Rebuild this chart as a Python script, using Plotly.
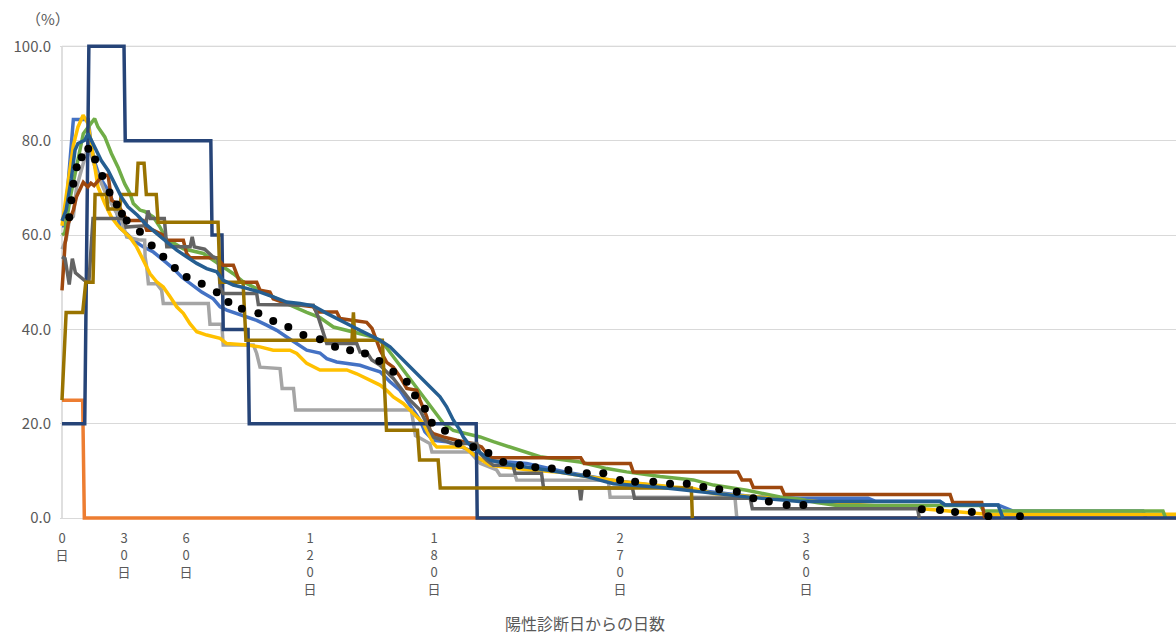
import plotly.graph_objects as go

# ---------------- data (day since positive diagnosis, %) ----------------
blue_days = [0, 1.3, 5.5, 12.7, 14.2, 15.8, 18.2, 22.3, 26.3, 28.1, 31.3, 34.5, 39.3, 44.2, 49, 53.9, 57.9, 62.8, 67.6, 73.2,
             76.5, 79.7, 84.5, 89.4, 94.2, 99, 103.9, 108.7, 113.6, 118.4, 124.8, 128.1, 132.9, 144.2, 149, 153.9, 158.7, 163.5, 166.8, 170,
             173.2, 175.6, 179.7, 186.1, 191, 197.4, 202.3, 224.8, 243.4, 265.2, 284.5, 307.1, 336.1, 357, 390, 393.4, 424.8, 427.3, 452.9, 460.2,
             523, 524.5]
blue_vals = [62, 62, 84.5, 84.5, 78.7, 75.5, 72.3, 69.5, 65.3, 61.5, 60.3, 58.9, 57.5, 56.4, 54.7, 52.9, 51.1, 49.4, 47.9, 46.5,
             44.8, 44.1, 43.4, 42.6, 41.9, 40.9, 39.8, 38.4, 37.0, 35.6, 35.0, 33.8, 33.1, 32.4, 31.7, 31.0, 28.9, 27.1, 25.0, 22.9,
             20.8, 18.3, 16.5, 16.2, 15.5, 14.4, 12.3, 11.6, 9.8, 8.1, 7.0, 5.9, 4.5, 4.2, 4.2, 3.6, 3.6, 2.8, 2.8, 1.5,
             1.5, 0]

orange_days = [0, 10, 10.8, 539]
orange_vals = [25, 25, 0, 0]

lgray_days = [0, 2, 3.5, 5.5, 7, 9.5, 12.7, 14, 17, 21, 26, 28.9, 31.3, 37, 40, 40.2, 41, 41.8, 45.8, 48.2,
              49, 70.8, 71.6, 77.3, 78, 92.6, 94.2, 95.8, 105.5, 106.5, 112, 113, 169, 171, 178, 179, 197.4, 202.3, 210.3, 211.9,
              219.2, 220, 264.3, 265.2, 325.6, 326.5]
lgray_vals = [57, 59, 63, 64, 70, 74, 79, 77, 73, 69, 65, 63.1, 59.6, 59, 58.9, 55.4, 53.2, 49.7, 49.7, 48.3,
              45.5, 45.5, 41.1, 41.1, 36.7, 36.7, 34.9, 32.0, 31.7, 27.5, 27.5, 22.9, 22.9, 17.5, 15.8, 14.0, 14.0, 11.6, 10.2, 9.1,
              9.1, 8.1, 8.0, 4.4, 4.4, 0]

yellow_days = [0, 3, 5.5, 7.7, 10.2, 12.6, 14.5, 15.8, 17.4, 20.7, 23.9, 27, 30.3, 32.9, 36.1, 39.3, 42.6, 45.8, 49, 52.3,
               55.5, 58.7, 61.9, 65.2, 70, 76.5, 79.7, 89.4, 95.8, 102.2, 110.3, 113.6, 118.4, 124.8, 137.8, 142.6, 149, 153.9, 157.1, 160.3,
               165.1, 170, 174.8, 178.1, 179.7, 181.3, 194.2, 200.7, 207.1, 226.4, 239.4, 253.9, 265.2, 271.6, 295.8, 305.5, 315.2, 344.2, 357, 380,
               416, 429.7, 441, 447.4, 539]
yellow_vals = [62, 72, 79, 82.9, 85.4, 83.6, 78, 74.4, 70.2, 66.7, 63.8, 62, 60.5, 59.5, 57.5, 54.7, 51.8, 50.1, 49.0, 46.9,
               44.8, 43.4, 41.2, 39.5, 38.8, 38.1, 37.0, 36.7, 36.3, 35.6, 35.6, 34.9, 32.8, 31.4, 31.4, 30.6, 29.2, 28.2, 27.1, 25.7,
               24.3, 22.2, 20.1, 17.2, 15.8, 15.1, 15.1, 13.0, 11.2, 10.2, 9.8, 8.8, 8.1, 7.7, 6.6, 6.3, 5.2, 4.2, 3.8, 3.0,
               2.0, 1.5, 1.2, 0.8, 0.8]

green_days = [0, 1.3, 4, 7.7, 10.3, 13.4, 15.8, 17.4, 20.7, 23.9, 27.1, 30.3, 32.9, 34.5, 37.7, 40, 44.2, 47.4, 50.7, 54.5,
              58.7, 68.4, 78, 82.9, 87.7, 92.6, 99, 108, 118.4, 124.8, 131.3, 144.2, 150.6, 155.5, 160.3, 165.1, 170, 174.8, 179.7, 184.5,
              189.3, 195.8, 202.3, 208.7, 216.8, 224.8, 231.3, 250.6, 263.6, 273.2, 289.4, 305.5, 315.2, 331.3, 347.4, 357, 365, 375, 444.2, 446,
              532.7, 534]
green_vals = [60, 60.4, 68, 76.5, 81.5, 83.3, 84.7, 82.9, 80.8, 77.3, 74.4, 70.9, 68.8, 66.7, 65.3, 65.0, 63.8, 61.7, 58.9, 58.2,
              57.1, 56.1, 53.2, 51.8, 50.1, 49.0, 47.6, 45.6, 43.6, 42.5, 40.5, 39.1, 38.4, 37.0, 34.2, 31.4, 28.5, 25.7, 22.9, 20.1,
              18.6, 17.9, 17.2, 16.2, 15.1, 14.0, 13.0, 11.9, 10.5, 9.8, 8.8, 8.1, 7.0, 5.9, 4.5, 4.0, 3.3, 2.7, 2.7, 1.5,
              1.5, 0]

navy_days = [0, 11, 13, 30, 30.6, 72, 72.6, 77.4, 78, 90, 90.6, 200.4, 200.9, 539]
navy_vals = [20, 20, 100, 100, 80, 80, 60, 60, 40, 40, 20, 20, 0, 0]

brown_days = [0, 1.5, 3, 5.5, 7, 9, 10.3, 12.5, 14, 15.5, 19, 21.6, 22.3, 24, 26.5, 29.7, 31.3, 39.3, 41, 44.2,
              49, 50.7, 58.7, 60.3, 61.9, 74.9, 78, 82.9, 84.5, 86, 94.2, 95.8, 100.6, 102.2, 103.9, 108.7, 121.6, 123.2, 132.9, 134.5,
              147.4, 150, 152.3, 154, 157.1, 160.3, 163.5, 166.8, 171.6, 173.2, 176.5, 178.1, 179.7, 184.5, 191, 199, 203, 205.5, 208, 251,
              252.7, 275, 276.4, 327, 329, 333, 334.5, 348, 349.5, 429.7, 431, 445, 446.5]
brown_vals = [48.3, 58.2, 62.4, 65.3, 68.1, 70.2, 71.2, 70.2, 71, 70.5, 72.3, 72.7, 72.7, 67.4, 66.7, 64.6, 63.1, 63.1, 61, 61,
              60, 58.9, 58.9, 56.1, 55.2, 55.2, 53.6, 53.6, 51.8, 50, 50, 48.3, 47.9, 46.5, 46.2, 45.5, 44.8, 43.7, 43.7, 42.3,
              41.5, 40.2, 37.5, 35.5, 33, 32, 30, 27.5, 27.1, 25.0, 21.5, 18.6, 17.9, 17.2, 16.5, 15.8, 15.1, 13.7, 12.8, 12.8,
              11.6, 11.6, 9.8, 9.8, 8.1, 8.1, 6.5, 6.5, 5.0, 5.0, 3.3, 3.3, 0]

dgray_days = [0, 1.5, 3.5, 5, 6.5, 9, 12, 13, 15, 30, 31, 40.5, 41.6, 42.7, 49.5, 50.7, 62, 63, 64, 69,
              73, 75.5, 76.5, 78, 94.2, 95, 121.6, 124, 126.4, 128.1, 142.6, 144.2, 147.4, 149.9, 153.9, 157.1, 160.3, 163.5, 168.4, 173.2,
              176.5, 179.7, 184.5, 189.3, 200.7, 202.3, 205.5, 208.7, 218.2, 219.2, 232, 233, 250.3, 251, 251.7, 276, 277, 333, 334, 414,
              414.8]
dgray_vals = [55.4, 55, 49.5, 55, 52, 51, 50, 50, 63.5, 63.5, 61.7, 62, 65.2, 63.5, 63.5, 57.5, 57.5, 59.6, 57.5, 57,
              55.4, 55, 49, 47.6, 47.6, 45.3, 45.1, 42.6, 39.2, 37, 37, 35.2, 35.2, 33.5, 32.4, 31, 29.6, 27.8, 25, 22.9,
              20.1, 17.2, 16.5, 15.8, 15.8, 13.7, 12.3, 11.2, 11.2, 9.5, 9.5, 6.4, 6.4, 3.8, 6.4, 6.4, 4.2, 4.2, 2.0, 2.0,
              0]

olive_days = [0, 2, 10, 11.5, 15, 16, 21.4, 22.3, 27.9, 28.7, 36, 36.8, 39.7, 40.8, 45.6, 46.5, 75.5, 76.5, 87.6, 89,
              140.3, 141, 141.7, 155, 157, 172, 173, 182, 183, 304.5, 305]
olive_vals = [25, 43.6, 43.6, 50, 50, 68.6, 68.6, 65.5, 65.5, 68.6, 68.6, 75.2, 75.2, 68.6, 68.6, 62.7, 62.7, 50, 50, 37.7,
              37.7, 43.6, 37.7, 37.7, 18.6, 18.6, 12.3, 12.3, 6.4, 6.4, 0]

sblue_days = [0, 2, 4.5, 6.3, 7.7, 11, 12.6, 15.8, 19, 22.3, 25.5, 28.7, 31.9, 36.5, 41, 45.8, 50.7, 55.5, 60.3, 65.2,
              70, 74.9, 78, 82.9, 89.4, 95.8, 102.2, 108.7, 115.2, 121.6, 128.1, 134.5, 141, 147.4, 153.9, 158.7, 163.5, 168.4, 173.2, 178.1,
              182.9, 186.1, 189.3, 192.6, 194.2, 196.6, 200.7, 207.1, 218.4, 234.5, 253.9, 266.8, 287.8, 308.7, 331.3, 357, 424.8, 427.3, 452.9, 455.3]
sblue_vals = [63, 65.3, 72, 78, 79.4, 80.1, 81.5, 78.7, 75.8, 73.7, 70.9, 68.1, 66, 64.2, 62.1, 60.3, 58.5, 56.8, 55.4, 54.0,
              52.9, 52.2, 50.4, 49.4, 48.7, 47.9, 46.9, 45.8, 45.5, 45.0, 43.4, 41.9, 40.5, 39.1, 37.7, 36.3, 34.2, 32.1, 29.9, 27.8,
              25.7, 23.6, 20.8, 18.6, 17.2, 15.8, 14.4, 12.3, 11.2, 10.2, 8.8, 7.3, 6.6, 5.6, 4.5, 3.5, 3.5, 2.8, 2.8, 0]

avg_days = [3.5, 4.5, 5.5, 7.1, 9.5, 12.7, 16, 19.5, 23, 26.5, 29, 31.3, 37.7, 43.4, 49, 54.6, 60.3, 67.6, 74.9, 80.5,
            87, 95, 102.2, 109.5, 116.8, 124.8, 132.1, 139.4, 146.6, 153.5, 160.3, 166.8, 170.8, 175.6, 178.9, 185.3, 191.8, 199, 206.3, 213.5,
            221.6, 229, 237, 245, 253.9, 261.9, 270, 277.3, 286.1, 294.2, 302.3, 310.3, 318, 326.5, 334.5, 342, 350.6, 358.7, 416, 424.8,
            432.1, 440.2, 448.2, 463.5]
avg_vals = [63.8, 67.4, 70.9, 74.4, 76.5, 78.3, 76, 72.5, 69, 66.5, 64.5, 63.1, 60.7, 57.8, 55.4, 53, 51.1, 49.7, 47.9, 45.8,
            44.4, 43.4, 41.8, 40.5, 38.8, 37.9, 36.3, 35.6, 34.9, 33.3, 31.0, 28.9, 26.0, 23.2, 20.2, 18.5, 15.8, 15.1, 13.8, 11.9,
            11.2, 10.8, 10.5, 10.2, 9.5, 9.5, 8.1, 7.7, 7.7, 7.3, 7.3, 6.6, 6.1, 5.6, 4.2, 3.5, 2.8, 2.8, 1.9, 1.7,
            1.3, 1.3, 0.4, 0.4]

tick_days = [0, 30, 60, 120, 180, 270, 360]
tick_text = ["0<br>日", "3<br>0<br>日", "6<br>0<br>日", "1<br>2<br>0<br>日", "1<br>8<br>0<br>日",
             "2<br>7<br>0<br>日", "3<br>6<br>0<br>日"]
y_ticks = [0, 20, 40, 60, 80, 100]

# ---------------- figure ----------------
series = [
    (blue_days, blue_vals, "#4472C4"),
    (orange_days, orange_vals, "#ED7D31"),
    (lgray_days, lgray_vals, "#A5A5A5"),
    (yellow_days, yellow_vals, "#FFC000"),
    (green_days, green_vals, "#70AD47"),
    (navy_days, navy_vals, "#264478"),
    (brown_days, brown_vals, "#9E480E"),
    (dgray_days, dgray_vals, "#636363"),
    (olive_days, olive_vals, "#997300"),
    (sblue_days, sblue_vals, "#255E91"),
]

fig = go.Figure()
for d, v, c in series:
    fig.add_trace(go.Scatter(x=d, y=v, mode="lines", line=dict(color=c, width=3.5),
                             showlegend=False, hoverinfo="skip"))
fig.add_trace(go.Scatter(x=avg_days, y=avg_vals, mode="markers",
                         marker=dict(color="black", size=8), showlegend=False, hoverinfo="skip"))

font_family = "Noto Sans CJK JP"
fig.update_layout(
    width=1176, height=636,
    margin=dict(l=60, r=0, t=44, b=116),
    paper_bgcolor="white", plot_bgcolor="white",
    font=dict(family=font_family, color="#595959", size=14),
    xaxis=dict(range=[-0.97, 539], tickvals=tick_days, ticktext=tick_text, showgrid=False,
               zeroline=False, showline=False, ticks="", tickfont=dict(size=13, color="#595959"),
               ticklabelstandoff=9),
    yaxis=dict(range=[-0.4, 100.5], tickvals=y_ticks, tickformat=".1f", showgrid=True,
               gridcolor="#D9D9D9", gridwidth=1, zeroline=False, showline=False, ticks="",
               tickfont=dict(size=15, color="#595959"), ticklabelstandoff=8),
    shapes=[
        dict(type="line", xref="x", yref="y", x0=0, x1=539, y0=100, y1=100,
             line=dict(color="#A6A6A6", width=1), layer="below"),
        dict(type="line", xref="x", yref="y", x0=0, x1=0, y0=0, y1=100,
             line=dict(color="#BFBFBF", width=1), layer="below"),
    ],
    annotations=[
        dict(text="（%）", xref="paper", yref="paper", x=-0.0108, y=1.0546,
             showarrow=False, xanchor="center", yanchor="middle", font=dict(size=15, color="#595959")),
        dict(text="陽性診断日からの日数", xref="paper", yref="paper", x=0.4704, y=-0.2164,
             showarrow=False, xanchor="center", yanchor="middle", font=dict(size=16, color="#595959")),
    ],
)

fig.write_html(
    "out.html",
    config={"displayModeBar": False},
    post_script="document.body.style.margin='0';document.body.style.overflow='hidden';"
                "document.documentElement.style.overflow='hidden';",
)
